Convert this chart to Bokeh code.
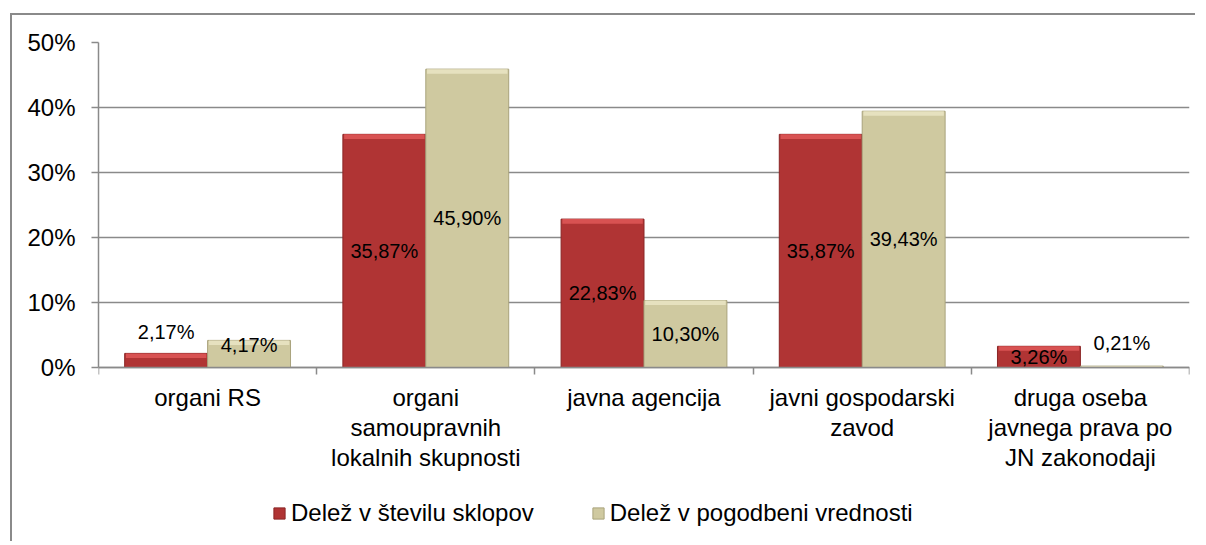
import numpy as np
from bokeh.plotting import figure
from bokeh.models import (Range1d, FixedTicker, PrintfTickFormatter, ColumnDataSource,
                          Legend, LegendItem)
from bokeh.core.properties import value
from bokeh.embed import file_html
from bokeh.resources import INLINE

# ---------------- data ----------------
categories = [
    "organi RS",
    "organi\nsamoupravnih\nlokalnih skupnosti",
    "javna agencija",
    "javni gospodarski\nzavod",
    "druga oseba\njavnega prava po\nJN zakonodaji",
]
series_names = ["Delež v številu sklopov", "Delež v pogodbeni vrednosti"]
share_count = [2.17, 35.87, 22.83, 35.87, 3.26]
share_value = [4.17, 45.90, 10.30, 39.43, 0.21]
y_ticks = [0, 10, 20, 30, 40, 50]

# ---------------- style ----------------
FONT = "Liberation Sans"
RED = "#B03434"
RED_EDGE = "#8A2626"
RED_TOP = "#D85252"
BEIGE = "#CFC9A0"
BEIGE_EDGE = "#A9A37C"
BEIGE_TOP = "#E6E1BF"
GRAY = "#8a8a8a"
bar_w = 0.38
bevel = 0.7            # height of the lighter top bevel, in axis units
# extra lift (in axis units) for labels Excel nudged off small bars
label_lift = [[4.3, 0, 0, 0, 0], [1.3, 0, 0, 0, 3.6]]

def fmt(v):
    return f"{v:.2f}".replace(".", ",") + "%"

n = len(categories)
centers = np.arange(n) + 0.5

src = ColumnDataSource(dict(
    x_a=centers - bar_w / 2,
    x_b=centers + bar_w / 2,
    a=share_count,
    b=share_value,
    a_bev=[max(v - bevel, 0) for v in share_count],
    b_bev=[max(v - bevel, 0) for v in share_value],
    ya=[v / 2 + d for v, d in zip(share_count, label_lift[0])],
    yb=[v / 2 + d for v, d in zip(share_value, label_lift[1])],
    ta=[fmt(v) for v in share_count],
    tb=[fmt(v) for v in share_value],
))

# layout: frame runs to the canvas bottom so legend + category labels sit inside it
H, TOP = 528, 27
plot_px = 325                       # pixels from 50% down to 0%
frame_px = H - TOP
y_min = -(y_ticks[-1] * (frame_px - plot_px) / plot_px)

p = figure(width=1185, height=H,
           x_range=Range1d(0, n), y_range=Range1d(y_min, y_ticks[-1]),
           output_backend="svg", toolbar_location=None,
           min_border_left=86, min_border_right=8, min_border_top=TOP,
           min_border_bottom=0)
p.styles = {"border-left": f"2px solid {GRAY}", "border-top": f"2px solid {GRAY}",
            "margin-left": "10px", "margin-top": "13px"}
p.outline_line_color = None
p.background_fill_color = "white"
p.border_fill_color = "white"

r1 = p.vbar(x="x_a", top="a", width=bar_w, source=src,
            fill_color=RED, line_color=RED_EDGE, line_width=1)
r2 = p.vbar(x="x_b", top="b", width=bar_w, source=src,
            fill_color=BEIGE, line_color=BEIGE_EDGE, line_width=1)
# lighter bevel along the top of each bar
p.vbar(x="x_a", top="a", bottom="a_bev", width=bar_w * 0.97, source=src,
       fill_color=RED_TOP, line_color=None)
p.vbar(x="x_b", top="b", bottom="b_bev", width=bar_w * 0.97, source=src,
       fill_color=BEIGE_TOP, line_color=None)

p.text(x="x_a", y="ya", text="ta", source=src, text_align="center",
       text_baseline="middle", text_font=value(FONT), text_font_size="20px",
       text_color="black")
p.text(x="x_b", y="yb", text="tb", source=src, text_align="center",
       text_baseline="middle", text_font=value(FONT), text_font_size="20px",
       text_color="black")

# grid
p.xgrid.grid_line_color = None
p.ygrid.grid_line_color = GRAY
p.ygrid.grid_line_width = 1.5
p.ygrid.ticker = FixedTicker(ticks=y_ticks)

# y axis
ya = p.yaxis[0]
ya.ticker = FixedTicker(ticks=y_ticks)
ya.bounds = (y_ticks[0], y_ticks[-1])
ya.formatter = PrintfTickFormatter(format="%d%%")
ya.axis_line_color = GRAY
ya.axis_line_width = 1.5
ya.major_tick_line_color = GRAY
ya.major_tick_line_width = 1.5
ya.major_tick_out = 7
ya.major_tick_in = 0
ya.minor_tick_line_color = None
ya.major_label_standoff = 16
ya.major_label_text_font = FONT
ya.major_label_text_font_size = "24px"
ya.major_label_text_color = "black"

# x axis at 0%: labels at centres, ticks at category boundaries
xa = p.xaxis[0]
xa.fixed_location = 0
xa.ticker = FixedTicker(ticks=list(centers), minor_ticks=list(range(n + 1)))
xa.major_label_overrides = {float(c): lab for c, lab in zip(centers, categories)}
xa.axis_line_color = GRAY
xa.axis_line_width = 1.5
xa.major_tick_line_color = None
xa.major_tick_out = 0
xa.major_tick_in = 0
xa.minor_tick_line_color = GRAY
xa.minor_tick_line_width = 1.5
xa.minor_tick_out = 7
xa.minor_tick_in = 0
xa.major_label_standoff = 9
xa.major_label_text_font = FONT
xa.major_label_text_font_size = "24px"
xa.major_label_text_color = "black"
xa.major_label_text_line_height = 1.12

legend = Legend(items=[LegendItem(label=series_names[0], renderers=[r1]),
                       LegendItem(label=series_names[1], renderers=[r2])],
                orientation="horizontal", location=(174, 16),
                label_text_font=FONT, label_text_font_size="24px",
                label_text_color="black",
                glyph_width=14, glyph_height=14, label_standoff=5, spacing=57,
                padding=0, margin=0, border_line_color=None,
                background_fill_alpha=0)
p.add_layout(legend, "center")

open("out.html", "w").write(file_html(p, INLINE))
